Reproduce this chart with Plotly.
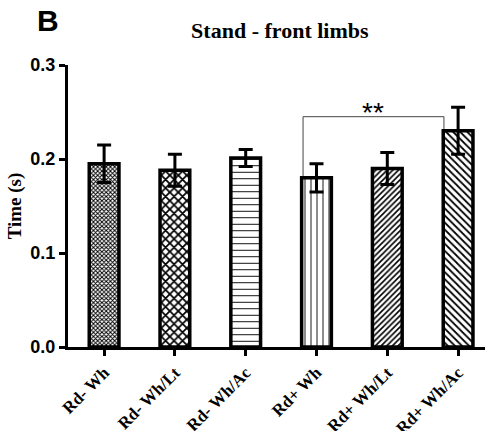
import plotly.graph_objects as go

categories = ["Rd- Wh", "Rd- Wh/Lt", "Rd- Wh/Ac", "Rd+ Wh", "Rd+ Wh/Lt", "Rd+ Wh/Ac"]
means = [0.195, 0.188, 0.201, 0.180, 0.190, 0.230]
sems = [0.020, 0.017, 0.009, 0.015, 0.017, 0.025]
y_ticks = [0.0, 0.1, 0.2, 0.3]
sig_pair = (3, 5)
sig_label = "**"
sig_height = 0.245

shapes_pat = ["x", "x", "-", "|", "/", "\\"]
sizes_pat = [3, 6, 6.5, 6, 4, 5]
solid_pat = [0.55, 0.5, 0.15, 0.15, 0.4, 0.35]

fig = go.Figure()
fig.add_trace(go.Bar(
    x=list(range(len(categories))),
    y=means,
    width=0.42,
    marker=dict(
        color="white",
        line=dict(color="black", width=3.5),
        pattern=dict(shape=shapes_pat, size=sizes_pat, solidity=solid_pat,
                     fgcolor="black", bgcolor="white", fillmode="replace"),
    ),
    error_y=dict(type="data", array=sems, visible=True, color="black",
                 thickness=3, width=7),
    showlegend=False,
))

i0, i1 = sig_pair
fig.add_shape(type="path",
              path=f"M {i0-0.19},{means[i0]} L {i0-0.19},{sig_height} L {i1-0.2},{sig_height} L {i1-0.2},{means[i1]}",
              line=dict(color="#444", width=1), layer="below")
fig.add_annotation(x=(i0 - 0.19 + i1 - 0.2) / 2, y=sig_height, text=sig_label,
                   showarrow=False, yanchor="bottom", yshift=-13,
                   font=dict(family="Liberation Sans", size=28, color="black"))

fig.add_annotation(xref="paper", yref="paper", x=-0.078, y=1.0, yshift=63,
                   text="<b>B</b>", showarrow=False, xanchor="left", yanchor="top",
                   font=dict(family="Liberation Sans", size=30, color="black"))

fig.update_layout(
    width=485, height=431,
    margin=dict(l=68, r=0, t=65, b=84),
    plot_bgcolor="white", paper_bgcolor="white",
    title=dict(text="<b>Stand - front limbs</b>", x=0.577, xanchor="center",
               y=0.93, yanchor="middle",
               font=dict(family="Liberation Serif", size=22, color="black")),
    bargap=0.5,
)
fig.update_xaxes(
    range=[-0.51, 5.38], automargin=False,
    tickmode="array", tickvals=list(range(len(categories))),
    ticktext=[f"<b>{c}</b>" for c in categories],
    tickangle=-45,
    tickfont=dict(family="Liberation Serif", size=17, color="black"),
    showline=True, linecolor="black", linewidth=3,
    ticks="outside", ticklen=6, tickwidth=3, tickcolor="black",
    showgrid=False, zeroline=False,
)
fig.update_yaxes(
    range=[0, 0.3], automargin=False,
    tickmode="array", tickvals=y_ticks,
    ticktext=[f"<b>{v:.1f}</b>" for v in y_ticks],
    tickfont=dict(family="Liberation Sans", size=18, color="black"),
    showline=True, linecolor="black", linewidth=3,
    ticks="outside", ticklen=6, tickwidth=3, tickcolor="black",
    showgrid=False, zeroline=False,
    title=dict(text="<b>Time (s)</b>", standoff=4,
               font=dict(family="Liberation Serif", size=19, color="black")),
)

fig.write_html("out.html", config={"displayModeBar": False},
               post_script="document.body.style.margin='0';")
